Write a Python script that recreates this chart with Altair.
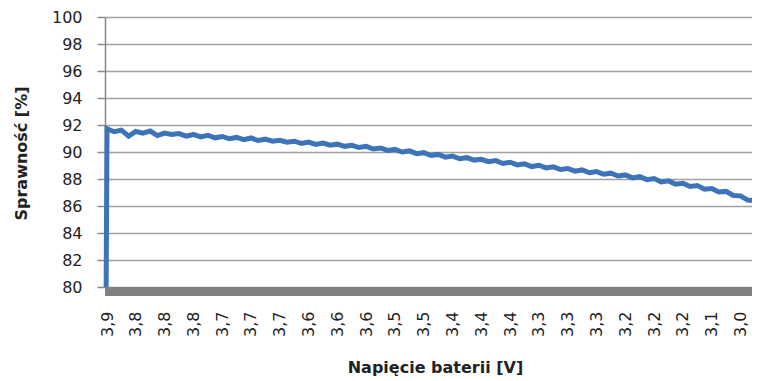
import altair as alt
import pandas as pd

# Category tick labels along the x axis
x_labels = ["3,9", "3,8", "3,8", "3,8", "3,7", "3,7", "3,7", "3,6", "3,6", "3,6",
            "3,5", "3,5", "3,4", "3,4", "3,4", "3,3", "3,3", "3,3", "3,2", "3,2",
            "3,2", "3,1", "3,0"]

# Position along the category axis (in label units) of each sample
x_pos = [-0.03] + [0.25 * i for i in range(90)] + [22.4]

# Efficiency (%)
efficiency = [
    80.0,
    91.72, 91.50, 91.62, 91.18, 91.52, 91.40, 91.55, 91.22, 91.40, 91.30,
    91.36, 91.18, 91.30, 91.12, 91.24, 91.05, 91.15, 90.98, 91.08, 90.92,
    91.04, 90.85, 90.95, 90.80, 90.86, 90.72, 90.80, 90.64, 90.74, 90.56,
    90.66, 90.50, 90.58, 90.42, 90.50, 90.33, 90.42, 90.22, 90.30, 90.12,
    90.20, 90.00, 90.08, 89.88, 89.95, 89.74, 89.82, 89.62, 89.70, 89.50,
    89.58, 89.40, 89.46, 89.28, 89.36, 89.15, 89.24, 89.04, 89.12, 88.92,
    89.02, 88.82, 88.90, 88.70, 88.78, 88.58, 88.67, 88.46, 88.55, 88.35,
    88.43, 88.22, 88.30, 88.08, 88.17, 87.95, 88.03, 87.78, 87.86, 87.62,
    87.68, 87.45, 87.51, 87.25, 87.30, 87.04, 87.08, 86.78, 86.75, 86.44,
    86.40,
]

y_ticks = list(range(80, 101, 2))

df = pd.DataFrame({"u": x_pos, "eff": efficiency})

label_js = "[" + ",".join("'" + s + "'" for s in x_labels) + "][datum.value]"

W, H = 647, 270

x_enc = alt.X(
    "u:Q",
    scale=alt.Scale(domain=[-0.07, 22.4], nice=False, zero=False),
    axis=alt.Axis(
        values=list(range(len(x_labels))),
        labelExpr=label_js,
        labelAngle=-90,
        labelAlign="right",
        labelBaseline="middle",
        labelPadding=24,
        labelFont="DejaVu Sans",
        labelFontSize=16,
        labelColor="#222222",
        labelOverlap=False,
        ticks=False,
        domain=False,
        grid=False,
        title="Napięcie baterii [V]",
        titleFont="DejaVu Sans",
        titleFontSize=16,
        titleFontWeight="bold",
        titleColor="#222222",
        titleX=330,
        titleY=85,
        titleAlign="center",
        titleBaseline="alphabetic",
    ),
)

y_enc = alt.Y(
    "eff:Q",
    scale=alt.Scale(domain=[80, 100], nice=False, zero=False),
    axis=alt.Axis(
        values=y_ticks,
        tickCount=11,
        labelOverlap=False,
        grid=True,
        gridColor="#a0a0a0",
        gridWidth=1.5,
        domain=True,
        domainColor="#888888",
        domainWidth=1.5,
        ticks=True,
        tickColor="#888888",
        tickSize=8,
        tickWidth=1.5,
        labelPadding=15,
        labelFont="DejaVu Sans",
        labelFontSize=16,
        labelColor="#222222",
        title="Sprawność [%]",
        titleFont="DejaVu Sans",
        titleFontSize=16,
        titleFontWeight="bold",
        titleColor="#222222",
        titleAngle=270,
        titleX=-84,
        titleY=136,
        titleAlign="center",
        titleBaseline="middle",
    ),
)

line = alt.Chart(df).mark_line(color="#3d73b9", strokeWidth=5, strokeJoin="miter").encode(
    x=x_enc, y=y_enc
)

band = alt.Chart(df).mark_rule(color="#808080", strokeWidth=8, yOffset=4.5).encode(
    y=alt.datum(80), x=alt.value(0), x2=alt.value(W)
)

chart = (
    alt.layer(line, band)
    .properties(
        width=W,
        height=H,
        autosize=alt.AutoSizeParams(type="none"),
        padding={"left": 97, "top": 9, "right": 0, "bottom": 94},
        background="white",
    )
    .configure_view(stroke=None)
)

chart.save("out.html", embed_options={"renderer": "svg", "actions": False})
